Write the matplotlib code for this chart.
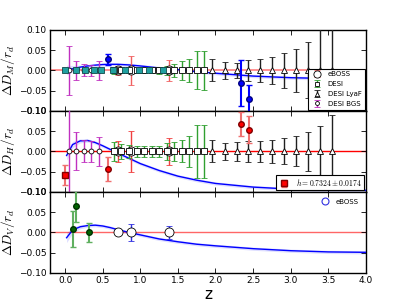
import matplotlib
matplotlib.use("Agg")
import matplotlib.pyplot as plt
from matplotlib.lines import Line2D

plt.rcParams['mathtext.fontset'] = 'cm'
plt.rcParams['font.family'] = 'DejaVu Sans'
plt.rcParams['xtick.direction'] = 'in'
plt.rcParams['ytick.direction'] = 'in'
plt.rcParams['xtick.top'] = True
plt.rcParams['ytick.right'] = True

# model curves
z_curve = [0.02, 0.1, 0.2, 0.3, 0.4, 0.5, 0.6, 0.7, 0.85, 1.0, 1.25, 1.5, 1.75, 2.0, 2.5, 3.0, 3.5, 4.0]
dm_curve = [0.001, 0.004, 0.008, 0.011, 0.013, 0.0145, 0.015, 0.015, 0.0135, 0.011, 0.006, 0.002,
            -0.003, -0.007, -0.014, -0.018, -0.020, -0.022]
dh_curve = [-0.010, 0.017, 0.026, 0.027, 0.022, 0.014, 0.005, -0.004, -0.017, -0.030, -0.047, -0.061,
            -0.071, -0.079, -0.088, -0.093, -0.095, -0.096]
dv_curve = [-0.013, 0.006, 0.014, 0.017, 0.018, 0.016, 0.012, 0.007, 0.0, -0.006, -0.016, -0.023,
            -0.029, -0.033, -0.040, -0.045, -0.048, -0.049]
band = [0.012, 0.008, 0.005, 0.004, 0.004, 0.004, 0.004, 0.004, 0.004, 0.004, 0.004, 0.004,
        0.004, 0.004, 0.004, 0.004, 0.004, 0.004]

# forecast surveys
z_eboss = [0.70, 0.87, 1.38]
err_eboss_dm = [0.012, 0.036, 0.026]
err_eboss_dh = [0.025, 0.050, 0.034]
err_eboss_dv = [0.006, 0.022, 0.016]

z_desi = [0.65, 0.75, 0.85, 0.95, 1.05, 1.15, 1.25, 1.35, 1.45, 1.55, 1.65, 1.75, 1.85]
err_desi_dm = [0.008, 0.007, 0.007, 0.007, 0.007, 0.007, 0.008, 0.012, 0.017, 0.023, 0.029, 0.047, 0.048]
err_desi_dh = [0.024, 0.019, 0.016, 0.014, 0.014, 0.014, 0.014, 0.020, 0.023, 0.027, 0.039, 0.065, 0.065]

z_lya = [1.96, 2.12, 2.28, 2.43, 2.59, 2.75, 2.91, 3.07, 3.23, 3.39, 3.55]
err_lya_dm = [0.027, 0.020, 0.019, 0.025, 0.029, 0.034, 0.043, 0.054, 0.069, 0.20, 0.25]
err_lya_dh = [0.027, 0.020, 0.023, 0.025, 0.026, 0.028, 0.032, 0.037, 0.048, 0.062, 0.090]

z_bgs = [0.05, 0.15, 0.25, 0.35, 0.45]
err_bgs_dm = [0.061, 0.024, 0.015, 0.014, 0.023]
err_bgs_dh = [0.20, 0.047, 0.027, 0.025, 0.036]

z_teal = [0.0, 0.15, 0.27, 0.38, 0.48, 0.64, 0.80, 0.98, 1.11, 1.30]
err_teal = [0.003, 0.003, 0.003, 0.003, 0.003, 0.003, 0.003, 0.003, 0.003, 0.003]

# measurements
z_dm_data = [0.57, 2.34, 2.45]
dm_data = [0.027, -0.031, -0.071]
err_dm_data = [0.014, 0.057, 0.035]

z_h0 = [0.0]
h0_data = [-0.058]
err_h0 = [0.024]
z_dh_data = [0.57, 2.34, 2.45]
dh_data = [-0.0435, 0.0675, 0.054]
err_dh_data = [0.029, 0.030, 0.034]

z_dv_data = [0.106, 0.15, 0.32]
dv_data = [0.008, 0.065, 0.0]
err_dv_data = [0.045, 0.038, 0.024]

yticks = [-0.10, -0.05, 0.00, 0.05, 0.10]
xticks = [0.0, 0.5, 1.0, 1.5, 2.0, 2.5, 3.0, 3.5, 4.0]


def zeros(z):
    return [0.0] * len(z)


def forecast(ax, z, err, color, marker, ms, label=None):
    return ax.errorbar(z, zeros(z), yerr=err, fmt=marker, ms=ms, mfc='white', mec='k', mew=0.6,
                       ecolor=color, elinewidth=1.0, capsize=2, capthick=1.0, label=label, zorder=4)


def model(ax, vals):
    lo = [v - b for v, b in zip(vals, band)]
    hi = [v + b for v, b in zip(vals, band)]
    ax.fill_between(z_curve, lo, hi, color='blue', alpha=0.13, lw=0, zorder=2)
    ax.plot(z_curve, vals, color='blue', lw=1.0, zorder=3)


fig = plt.figure(figsize=(4.07, 3.05), dpi=100)
fig.subplots_adjust(left=0.123, right=0.899, top=0.902, bottom=0.105, hspace=0)
ax1 = fig.add_subplot(3, 1, 1)
ax2 = fig.add_subplot(3, 1, 2, sharex=ax1)
ax3 = fig.add_subplot(3, 1, 3, sharex=ax1)

# top: D_M
ax1.axhline(0, color='red', alpha=0.5, lw=1.2, zorder=1)
model(ax1, dm_curve)
ax1.errorbar(z_teal, zeros(z_teal), yerr=err_teal, fmt='s', ms=4.5, mfc='#20a0a0', mec='#104848',
             mew=0.6, ecolor='#20a0a0', capsize=1.5, zorder=4.5)
h_eb = forecast(ax1, z_eboss, err_eboss_dm, '#f06060', 'o', 6.5, 'eBOSS')
h_de = forecast(ax1, z_desi, err_desi_dm, '#30a030', 's', 4, 'DESI')
h_ly = forecast(ax1, z_lya, err_lya_dm, '#202020', '^', 4, 'DESI LyaF')
h_bg = forecast(ax1, z_bgs, err_bgs_dm, '#c030c0', 'o', 3.5, 'DESI BGS')
ax1.errorbar(z_dm_data, dm_data, yerr=err_dm_data, fmt='o', ms=4, color='blue', mec='#000080',
             ecolor='blue', capsize=2, zorder=5)
leg1 = ax1.legend(handles=[h_eb, h_de, h_ly, h_bg], loc='lower right', fontsize=5,
                  borderaxespad=0.2, handlelength=1.6, labelspacing=0.55, fancybox=False,
                  edgecolor='k', framealpha=1, markerscale=0.8)
leg1.set_zorder(10)
leg1.get_frame().set_linewidth(0.8)

# middle: D_H
ax2.axhline(0, color='red', lw=1.0, zorder=1)
model(ax2, dh_curve)
forecast(ax2, z_eboss, err_eboss_dh, '#f04040', 'o', 6.5)
forecast(ax2, z_desi, err_desi_dh, '#30a030', 's', 4)
forecast(ax2, z_lya, err_lya_dh, '#202020', '^', 4)
forecast(ax2, z_bgs, err_bgs_dh, '#c030c0', 'o', 3.5)
h_h0 = ax2.errorbar(z_h0, h0_data, yerr=err_h0, fmt='s', ms=4, color='red', mec='#800000',
                    ecolor='#f07070', capsize=2, zorder=5,
                    label=r'$h = 0.7324 \pm 0.0174$')
ax2.errorbar(z_dh_data, dh_data, yerr=err_dh_data, fmt='o', ms=4, color='red', mec='#800000',
             ecolor='#f07070', capsize=2, zorder=5)
leg2 = ax2.legend(handles=[h_h0], loc='lower right', fontsize=5.5, borderaxespad=0.2,
                  handlelength=1.6, fancybox=False, edgecolor='k', framealpha=1,
                  borderpad=0.3)
leg2.set_zorder(10)
leg2.get_frame().set_linewidth(0.8)

# bottom: D_V
ax3.axhline(0, color='red', alpha=0.6, lw=1.0, zorder=1)
model(ax3, dv_curve)
forecast(ax3, z_eboss, err_eboss_dv, '#3030e0', 'o', 6.5)
ax3.errorbar(z_dv_data, dv_data, yerr=err_dv_data, fmt='o', ms=4, color='#006400', mec='#003000',
             ecolor='#60b060', capsize=2, zorder=5)
eb_handle = Line2D([], [], ls='none', marker='o', ms=5, mfc='white', mec='#3030e0', mew=0.8)
ax3.legend(handles=[eb_handle], labels=['eBOSS'], loc='upper right', fontsize=5, frameon=False,
           handlelength=1.5, borderaxespad=0.6)

labels = [r'$\Delta D_M/r_d$', r'$\Delta D_H/r_d$', r'$\Delta D_V/r_d$']
for ax, lab in zip([ax1, ax2, ax3], labels):
    ax.set_xlim(-0.2, 4.0)
    ax.set_ylim(-0.10, 0.10)
    ax.set_yticks(yticks)
    ax.set_yticklabels(['\u22120.10', '\u22120.05', '0.00', '0.05', '0.10'])
    ax.tick_params(labelsize=6.5, length=3.5, width=0.6, pad=2.5)
    ax.set_ylabel(lab, fontsize=9.5)
    ax.yaxis.set_label_coords(-0.105, 0.5)
    for sp in ax.spines.values():
        sp.set_linewidth(1.0)

ax3.set_xticks(xticks)
plt.setp(ax1.get_xticklabels(), visible=False)
plt.setp(ax2.get_xticklabels(), visible=False)
ax3.set_xlabel('z', fontsize=11, labelpad=1)

fig.savefig('out.png', dpi=100, facecolor='white')
